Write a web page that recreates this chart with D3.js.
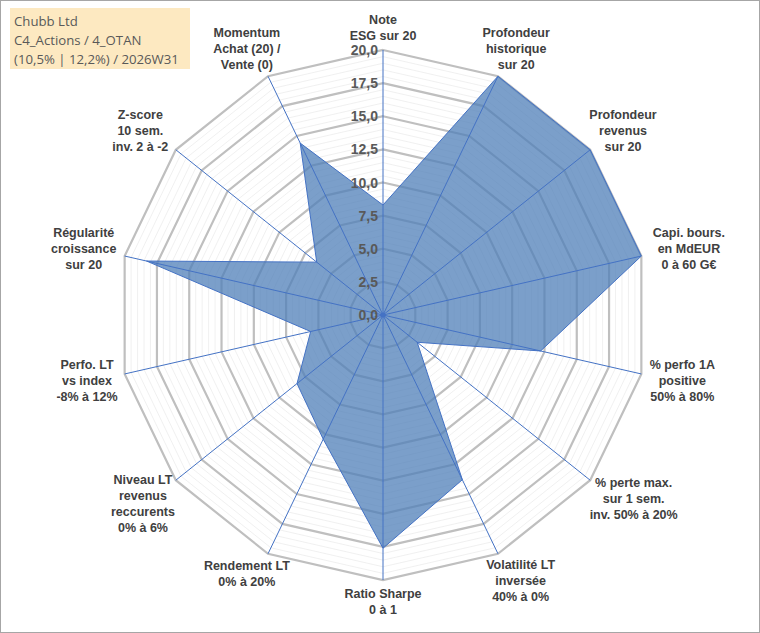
<!DOCTYPE html>
<html><head><meta charset="utf-8">
<script src="https://cdn.jsdelivr.net/npm/d3@7"></script>
<style>body{margin:0;background:#fff}svg{font-family:"Liberation Sans",Arial,sans-serif}</style>
</head><body>
<svg id="chart" width="760" height="633"></svg>
<script>
const axesLabels = [
  ["Note", "ESG sur 20"],
  ["Profondeur", "historique", "sur 20"],
  ["Profondeur", "revenus", "sur 20"],
  ["Capi. bours.", "en MdEUR", "0 à 60 G€"],
  ["% perfo 1A", "positive", "50% à 80%"],
  ["% perte max.", "sur 1 sem.", "inv. 50% à 20%"],
  ["Volatilité LT", "inversée", "40% à 0%"],
  ["Ratio Sharpe", "0 à 1"],
  ["Rendement LT", "0% à 20%"],
  ["Niveau LT", "revenus", "reccurents", "0% à 6%"],
  ["Perfo. LT", "vs index", "-8% à 12%"],
  ["Régularité", "croissance", "sur 20"],
  ["Z-score", "10 sem.", "inv. 2 à -2"],
  ["Momentum", "Achat (20) /", "Vente (0)"]
];
const values = [8.3, 20, 20, 20, 12.2, 3.3, 13.8, 17.6, 10.4, 8.3, 5.6, 18.3, 6.4, 14.4];
const ticks = [0, 2.5, 5, 7.5, 10, 12.5, 15, 17.5, 20];
const titleLines = ["Chubb Ltd", "C4_Actions / 4_OTAN", "(10,5% | 12,2%) / 2026W31"];

const svg = d3.select("#chart");
const cx = 383, cy = 315, R = 265, n = axesLabels.length;
const r = d3.scaleLinear().domain([0, 20]).range([0, R]);
const ang = i => i * 2 * Math.PI / n;
const pt = (i, v) => [cx + r(v) * Math.sin(ang(i)), cy - r(v) * Math.cos(ang(i))];

svg.append("rect").attr("x", 0.5).attr("y", 0.5).attr("width", 759).attr("height", 632)
  .attr("fill", "#fff").attr("stroke", "#a6a6a6");

// minor rings
d3.range(0.5, 20, 0.5).filter(v => v % 2.5 !== 0).forEach(v => {
  svg.append("polygon").attr("points", d3.range(n).map(i => pt(i, v)).join(" "))
    .attr("fill", "none").attr("stroke", "#ececec").attr("stroke-width", 0.8);
});
ticks.slice(1).forEach(v => {
  svg.append("polygon").attr("points", d3.range(n).map(i => pt(i, v)).join(" "))
    .attr("fill", "none").attr("stroke", "#bfbfbf").attr("stroke-width", 2.2);
});

svg.append("polygon").attr("points", values.map((v, i) => pt(i, v)).join(" "))
  .attr("fill", "#4f7fb8").attr("fill-opacity", 0.75).attr("stroke", "#4472c4").attr("stroke-width", 1);

d3.range(n).forEach(i => {
  const [x, y] = pt(i, 20);
  svg.append("line").attr("x1", cx).attr("y1", cy).attr("x2", x).attr("y2", y)
    .attr("stroke", "#4472c4").attr("stroke-width", 1);
});
svg.append("circle").attr("cx", cx).attr("cy", cy).attr("r", 2.5).attr("fill", "#4472c4");

const fmt = v => d3.format(".1f")(v).replace(".", ",");
ticks.forEach(v => {
  svg.append("text").attr("x", cx - 5).attr("y", cy - r(v) + 5).attr("text-anchor", "end")
    .attr("font-size", 14).attr("font-weight", "bold").attr("fill", "#595959").text(fmt(v));
});

const lh = 16;
axesLabels.forEach((lines, i) => {
  const a = ang(i), s = Math.sin(a), c = Math.cos(a);
  const [x0, y0] = pt(i, 20);
  const w = d3.max(lines, l => l.length) * 6.8;
  const hgt = lines.length * lh;
  const xc = x0 + s * (8 + w / 2);
  const yc = y0 - c * (6 + hgt / 2);
  const t = svg.append("text").attr("font-size", 12.5).attr("font-weight", "bold").attr("fill", "#404040")
    .attr("text-anchor", "middle");
  lines.forEach((l, k) => t.append("tspan").attr("x", xc).attr("y", yc - hgt / 2 + k * lh + 12).text(l));
});

svg.append("rect").attr("x", 10).attr("y", 8).attr("width", 180).attr("height", 61).attr("fill", "#fde9c1");
titleLines.forEach((l, k) => svg.append("text").attr("x", 14).attr("y", 26 + k * 19)
  .attr("font-size", 13.2).attr("fill", "#595959").attr("font-family", "'Open Sans',sans-serif").text(l));
</script>
</body></html>
